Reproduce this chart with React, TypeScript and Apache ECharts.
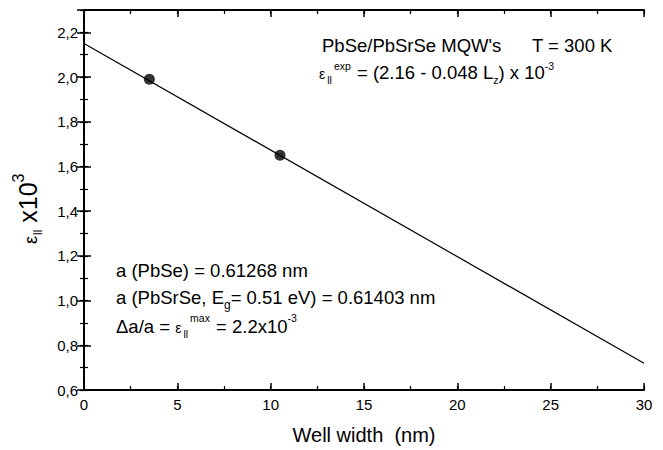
import React, { useEffect, useRef } from "react";
import * as echarts from "echarts";

// Data
const wellWidth = [3.5, 10.5];
const strain = [1.99, 1.65];
const fitX = [0, 30];
const fitY = [2.15, 0.72];

const xMin = 0, xMax = 30, xMajor = 5, xMinor = 2.5;
const yMin = 0.6, yMax = 2.3, yMajor = 0.2, yMinor = 0.1;

const FAMILY = '"Liberation Sans", Arial, Helvetica, sans-serif';

type Piece = { t: string; size: number; shift?: number; gap?: number };

let measureCtx: CanvasRenderingContext2D | null = null;
function measure(t: string, size: number): number {
  if (!measureCtx) measureCtx = document.createElement("canvas").getContext("2d");
  measureCtx!.font = `${size}px ${FAMILY}`;
  return measureCtx!.measureText(t).width;
}

function richLine(x: number, baseline: number, pieces: Piece[]): any[] {
  let cx = x;
  const out: any[] = [];
  for (const p of pieces) {
    const s = p.size;
    cx += p.gap || 0;
    const cy = baseline + (p.shift || 0) - 0.347 * s;
    out.push({
      type: "text",
      x: cx,
      y: cy,
      silent: true,
      style: {
        text: p.t,
        font: `${s}px ${FAMILY}`,
        fill: "#000",
        align: "left",
        verticalAlign: "middle",
        textAlign: "left",
        textVerticalAlign: "middle",
      },
    });
    cx += measure(p.t, s);
  }
  return out;
}

const MAIN = 18.5;
const SUB = 10.5;

export default function App() {
  const ref = useRef<HTMLDivElement>(null);
  useEffect(() => {
    document.body.style.margin = "0";
    if (!ref.current) return;
    const chart = echarts.init(ref.current, undefined, { renderer: "svg" });

    const axisLine = { show: true, lineStyle: { color: "#000", width: 2 } };
    const majorTick = { show: true, inside: true, length: 7, lineStyle: { color: "#000", width: 1.5 } };
    const minorTickS = { show: true, inside: true, length: 4, lineStyle: { color: "#000", width: 1.2 } };
    const yFmt = (v: number) => {
      const k = v / yMajor;
      if (Math.abs(k - Math.round(k)) > 1e-6) return "";
      return v.toFixed(1).replace(".", ",");
    };

    const gridRect = { left: 84, right: 19, top: 10, bottom: 60, outerBoundsMode: "none", containLabel: false };

    const graphics: any[] = [
      ...richLine(322, 52, [{ t: "PbSe/PbSrSe MQW's", size: MAIN }]),
      ...richLine(532, 52, [{ t: "T = 300 K", size: MAIN }]),
      ...richLine(319, 79, [
        { t: "ε", size: 14 },
        { t: "ll", size: SUB, shift: 5, gap: 2 },
        { t: "exp", size: SUB, shift: -9, gap: 2 },
        { t: " = (2.16 - 0.048 L", size: MAIN, gap: 1 },
        { t: "z", size: SUB, shift: 5 },
        { t: ") x 10", size: MAIN },
        { t: "-3", size: SUB, shift: -9 },
      ]),
      ...richLine(116, 277, [{ t: "a (PbSe) = 0.61268 nm", size: MAIN }]),
      ...richLine(116, 304, [
        { t: "a (PbSrSe, E", size: MAIN },
        { t: "g", size: 12, shift: 5 },
        { t: "= 0.51 eV) = 0.61403 nm", size: MAIN },
      ]),
      ...richLine(116, 333, [
        { t: "Δa/a = ", size: MAIN },
        { t: "ε", size: 14 },
        { t: "ll", size: SUB, shift: 5, gap: 2 },
        { t: "max", size: SUB, shift: -11, gap: 2 },
        { t: " = 2.2x10", size: MAIN, gap: 1 },
        { t: "-3", size: SUB, shift: -11 },
      ]),
      {
        type: "group",
        x: 37,
        y: 244,
        rotation: Math.PI / 2,
        children: richLine(0, 0, [
          { t: "ε", size: 18 },
          { t: "ll", size: 12, shift: 5, gap: 1 },
          { t: " x10", size: 25 },
          { t: "3", size: 16, shift: -13 },
        ]),
      },
    ];

    chart.setOption({
      animation: false,
      backgroundColor: "#fff",
      grid: [gridRect, gridRect],
      xAxis: [
        {
          type: "value", gridIndex: 0, position: "bottom", min: xMin, max: xMax, interval: xMajor,
          axisLine, axisTick: majorTick, splitLine: { show: false },
          axisLabel: { color: "#000", fontSize: 15, fontFamily: FAMILY, margin: 7 },
          name: "Well width  (nm)", nameLocation: "middle", nameGap: 35,
          nameTextStyle: { color: "#000", fontSize: 20, fontFamily: FAMILY },
        },
        {
          type: "value", gridIndex: 0, position: "top", min: xMin, max: xMax, interval: xMajor,
          axisLine, axisTick: majorTick, splitLine: { show: false }, axisLabel: { show: false },
        },
        {
          type: "value", gridIndex: 1, position: "bottom", min: xMin, max: xMax, interval: xMinor,
          axisLine: { show: false }, axisTick: minorTickS, splitLine: { show: false }, axisLabel: { show: false },
        },
        {
          type: "value", gridIndex: 1, position: "top", min: xMin, max: xMax, interval: xMinor,
          axisLine: { show: false }, axisTick: minorTickS, splitLine: { show: false }, axisLabel: { show: false },
        },
      ],
      yAxis: [
        {
          type: "value", gridIndex: 0, position: "left", min: yMin, max: yMax, interval: yMajor,
          axisLine, axisTick: majorTick, splitLine: { show: false },
          axisLabel: { color: "#000", fontSize: 15, fontFamily: FAMILY, margin: 6, formatter: yFmt },
        },
        {
          type: "value", gridIndex: 0, position: "right", min: yMin, max: yMax, interval: yMajor,
          axisLine, axisTick: majorTick, splitLine: { show: false }, axisLabel: { show: false },
        },
        {
          type: "value", gridIndex: 1, position: "left", min: yMin, max: yMax, interval: yMinor,
          axisLine: { show: false }, axisTick: minorTickS, splitLine: { show: false }, axisLabel: { show: false },
        },
        {
          type: "value", gridIndex: 1, position: "right", min: yMin, max: yMax, interval: yMinor,
          axisLine: { show: false }, axisTick: minorTickS, splitLine: { show: false }, axisLabel: { show: false },
        },
      ],
      series: [
        {
          type: "line",
          xAxisIndex: 0, yAxisIndex: 0,
          data: fitX.map((x, i) => [x, fitY[i]]),
          symbol: "none",
          lineStyle: { color: "#000", width: 1.2 },
          silent: true,
        },
        {
          type: "scatter",
          xAxisIndex: 0, yAxisIndex: 0,
          data: wellWidth.map((x, i) => [x, strain[i]]),
          symbol: "circle",
          symbolSize: 11,
          itemStyle: { color: "#000" },
          silent: true,
        },
      ],
      graphic: graphics,
    });

    return () => chart.dispose();
  }, []);

  return <div ref={ref} style={{ width: 663, height: 450 }} />;
}
